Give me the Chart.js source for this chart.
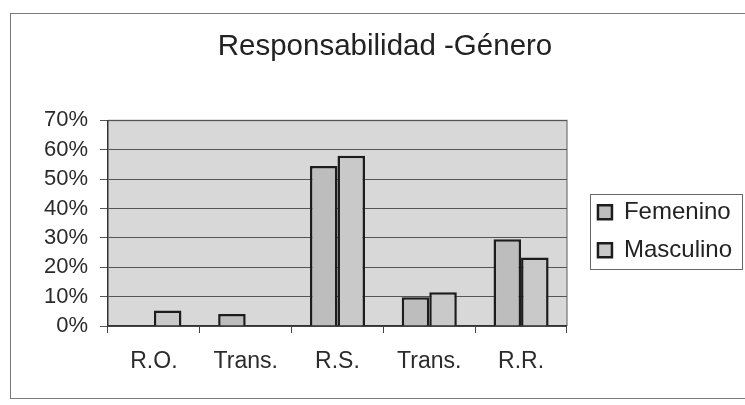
<!DOCTYPE html>
<html>
<head>
<meta charset="utf-8">
<script src="https://cdn.jsdelivr.net/npm/chart.js@4/dist/chart.umd.min.js"></script>
<style>
  html, body { margin: 0; padding: 0; background: #fff; }
  #wrap { position: relative; width: 745px; height: 405px; overflow: hidden; }
  #frame { position: absolute; left: 10px; top: 13px; width: 760px; height: 384px;
           border: 1px solid #7a7a7a; border-right: none; }
  #chart { position: absolute; left: 0; top: 0; }
</style>
</head>
<body>
<div id="wrap">
  <div id="frame"></div>
  <canvas id="chart" width="745" height="405"></canvas>
</div>
<script>
var categories = ["R.O.", "Trans.", "R.S.", "Trans.", "R.R."];
var femenino = [0, 4.1, 54.5, 9.8, 29.5];
var masculino = [5.3, 0, 58, 11.5, 23.3];
var yTicks = [0, 10, 20, 30, 40, 50, 60, 70];

var legendGap = 17;   // space between plot area and legend frame
var legendDown = 8;

// gray plot area with a thin border, like the Excel chart
var plotArea = {
    id: "plotArea",
    beforeDraw: function (chart) {
        var a = chart.chartArea;
        var ctx = chart.ctx;
        ctx.save();
        ctx.fillStyle = "#d8d8d8";
        ctx.fillRect(a.left, a.top, a.right - a.left, a.bottom - a.top);
        ctx.strokeStyle = "#8a8a8a";
        ctx.lineWidth = 1.5;
        ctx.beginPath();
        ctx.moveTo(a.left, a.top);
        ctx.lineTo(a.right, a.top);
        ctx.lineTo(a.right, a.bottom);
        ctx.stroke();
        ctx.restore();
    }
};

// make room between plot and legend, then push the legend over
var legendShift = {
    id: "legendShift",
    beforeLayout: function (chart) {
        var lg = chart.legend;
        if (lg && !lg._gapFit) {
            var fit = lg.fit;
            lg.fit = function () {
                fit.call(this);
                this.width += legendGap;
            };
            lg._gapFit = true;
        }
    },
    afterLayout: function (chart) {
        var lg = chart.legend;
        lg.left += legendGap;
        lg.top += legendDown;
        lg.bottom += legendDown;
    }
};

// frame around the legend
var legendBox = {
    id: "legendBox",
    afterDraw: function (chart) {
        var boxes = chart.legend.legendHitBoxes;
        if (!boxes || !boxes.length) return;
        var l = boxes[0].left, t = boxes[0].top, r = 0, b = 0;
        for (var i = 0; i < boxes.length; i++) {
            r = Math.max(r, boxes[i].left + boxes[i].width);
            b = Math.max(b, boxes[i].top + boxes[i].height);
        }
        var ctx = chart.ctx;
        ctx.save();
        ctx.strokeStyle = "#666";
        ctx.lineWidth = 1;
        ctx.strokeRect(Math.round(l - 8) + 0.5, Math.round(t - 6) + 0.5, Math.round(r - l + 18), Math.round(b - t + 13));
        ctx.restore();
    }
};

var chartData = {
    labels: categories,
    datasets: [{
        label: "Femenino",
        data: femenino,
        backgroundColor: "#bdbdbd",
        borderColor: "#1c1c1c",
        borderWidth: 2.5,
        categoryPercentage: 0.6,
        barPercentage: 1.0
    }, {
        label: "Masculino",
        data: masculino,
        backgroundColor: "#c9c9c9",
        borderColor: "#1c1c1c",
        borderWidth: 2.5,
        categoryPercentage: 0.6,
        barPercentage: 1.0
    }]
};

new Chart(document.getElementById("chart"), {
    type: "bar",
    data: chartData,
    plugins: [plotArea, legendShift, legendBox],
    options: {
        responsive: false,
        animation: false,
        layout: { padding: { left: 28, right: 3, top: 12, bottom: 10 } },
        plugins: {
            title: {
                display: true,
                text: "Responsabilidad -Género",
                color: "#222",
                font: { family: "Liberation Sans", size: 29.5, weight: "normal" },
                padding: { top: 17, bottom: 56 }
            },
            legend: {
                position: "right",
                fullSize: false,
                labels: {
                    color: "#222",
                    font: { family: "Liberation Sans", size: 24 },
                    boxWidth: 14,
                    boxHeight: 14,
                    padding: 14
                }
            },
            tooltip: { enabled: false }
        },
        scales: {
            x: {
                grid: { drawOnChartArea: false, tickLength: 7, color: "#444" },
                border: { color: "#333", width: 1.5 },
                ticks: {
                    color: "#2b2b2b",
                    padding: 15,
                    autoSkip: false,
                    maxRotation: 0,
                    font: { family: "Liberation Sans", size: 23 }
                },
                afterFit: function (s) { s.height = 69; }
            },
            y: {
                min: 0,
                max: 70,
                afterBuildTicks: function (s) {
                    s.ticks = yTicks.map(function (v) { return { value: v }; });
                },
                grid: { color: "#555", lineWidth: 1, tickLength: 8 },
                border: { color: "#333", width: 1.5 },
                ticks: {
                    color: "#2b2b2b",
                    padding: 12,
                    autoSkip: false,
                    font: { family: "Liberation Sans", size: 22 },
                    callback: function (v) { return v + "%"; }
                },
                afterFit: function (s) { s.width = 80; }
            }
        }
    }
});
</script>
</body>
</html>
